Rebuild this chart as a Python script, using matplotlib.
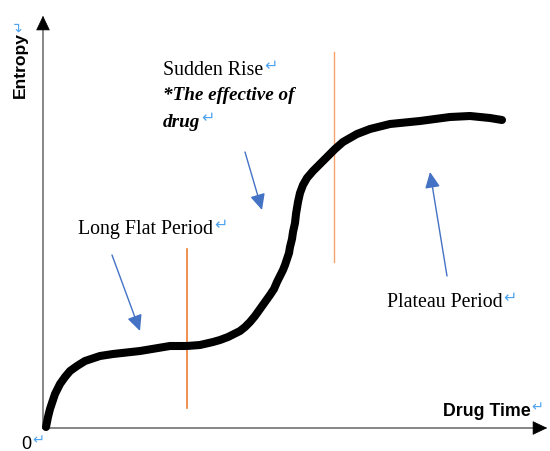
import matplotlib
matplotlib.use('Agg')
import matplotlib.pyplot as plt

# entropy curve (origin = axis corner)
drug_time = [3, 5, 7, 10, 12, 17, 22, 27, 34, 42, 57, 70, 97, 127, 144, 157, 170, 177, 185,
             191, 197, 202, 207, 212, 217, 222, 227, 231, 234, 237, 240, 242, 244, 246, 247,
             249, 250, 252, 253, 254, 255, 257, 260, 264, 270, 277, 284, 292, 300, 307, 314,
             327, 347, 377, 407, 427, 447, 459]
entropy = [1, 11, 19, 28, 34, 44, 51, 57, 62, 67, 72, 74, 77, 82, 82, 83, 86, 88, 91,
           94, 97, 101, 106, 112, 119, 126, 133, 139, 146, 152, 158, 163, 169, 175, 181,
           189, 196, 205, 214, 220, 226, 235, 243, 250, 257, 264, 271, 279, 286, 290, 294,
           299, 304, 307, 311, 312, 310, 308]

# phase boundaries (time, entropy from, entropy to)
boundary_time = [144, 291]
boundary_low = [20, 166]
boundary_high = [179, 376]

# pointer arrows: (tail, tip)
pointers = [((69, 173), (97, 97)),
            ((202, 276), (219, 218)),
            ((404, 152), (387, 256))]

serif = 'Liberation Serif'
sans = 'Liberation Sans'
ret_col = '#4ea3f0'
head = '-|>,head_length=0.8,head_width=0.38'

fig = plt.figure(figsize=(5.5, 4.52), dpi=100)
ax = fig.add_axes([0, 0, 1, 1])
ax.set_xlim(-43, 507)
ax.set_ylim(-23, 429)
ax.axis('off')

# axes with arrow heads
ax.plot([0, 0], [0, 405], color='#666666', lw=1.1, zorder=1)
ax.plot([0, 497], [0, 0], color='#666666', lw=1.1, zorder=1)
ax.annotate('', xy=(0, 415), xytext=(0, 403),
            arrowprops=dict(arrowstyle=head, color='black', lw=0.5, mutation_scale=12))
ax.annotate('', xy=(507, 0), xytext=(495, 0),
            arrowprops=dict(arrowstyle=head, color='black', lw=0.5, mutation_scale=12))

# orange boundaries
ax.plot([boundary_time[0]] * 2, [boundary_low[0], boundary_high[0]], color='#ed7d31', lw=1.2, zorder=1)
ax.plot([boundary_time[1]] * 2, [boundary_low[1], boundary_high[1]], color='#f4a270', lw=1.0, zorder=1)

# the curve
ax.plot(drug_time, entropy, color='black', lw=5.8, solid_capstyle='round',
        solid_joinstyle='round', zorder=2)

for tail, tip in pointers:
    ax.annotate('', xy=tip, xytext=tail,
                arrowprops=dict(arrowstyle=head, color='#4472c4', lw=1.0,
                                mutation_scale=12, shrinkA=0, shrinkB=0))


def with_return(t, size, rot=0):
    if rot:
        ax.annotate('\u21b5', xy=(0.5, 1), xycoords=t, rotation=90, ha='center',
                    va='bottom', color=ret_col, fontsize=size * 0.8, family='DejaVu Sans')
    else:
        ax.annotate('\u21b5', xy=(1, 0.3), xycoords=t, xytext=(0.5, 0), textcoords='offset points',
                    ha='left', va='bottom', color=ret_col, fontsize=size * 0.8,
                    family='DejaVu Sans')


t = ax.text(-23, 364, 'Entropy', rotation=90, ha='center', va='center',
            fontsize=12.6, fontweight='bold', family=sans)
with_return(t, 12.6, rot=90)

t = ax.text(400, 13, 'Drug Time', ha='left', va='baseline',
            fontsize=12.8, fontweight='bold', family=sans)
with_return(t, 12.8)

t = ax.text(-22, -20, '0', ha='left', va='baseline', fontsize=13, family=sans)
with_return(t, 13)

t = ax.text(120, 354, 'Sudden Rise', ha='left', va='baseline', fontsize=14.3, family=serif)
with_return(t, 14.3)
ax.text(120, 329, '*The effective of', ha='left', va='baseline', fontsize=13.8,
        fontweight='bold', fontstyle='italic', family=serif)
t = ax.text(120, 302, 'drug', ha='left', va='baseline', fontsize=13.8,
            fontweight='bold', fontstyle='italic', family=serif)
with_return(t, 14.3)

t = ax.text(35, 195, 'Long Flat Period', ha='left', va='baseline', fontsize=14.3, family=serif)
with_return(t, 14.3)

t = ax.text(344, 122, 'Plateau Period', ha='left', va='baseline', fontsize=14.3, family=serif)
with_return(t, 14.3)

fig.savefig('out.png', dpi=100)
